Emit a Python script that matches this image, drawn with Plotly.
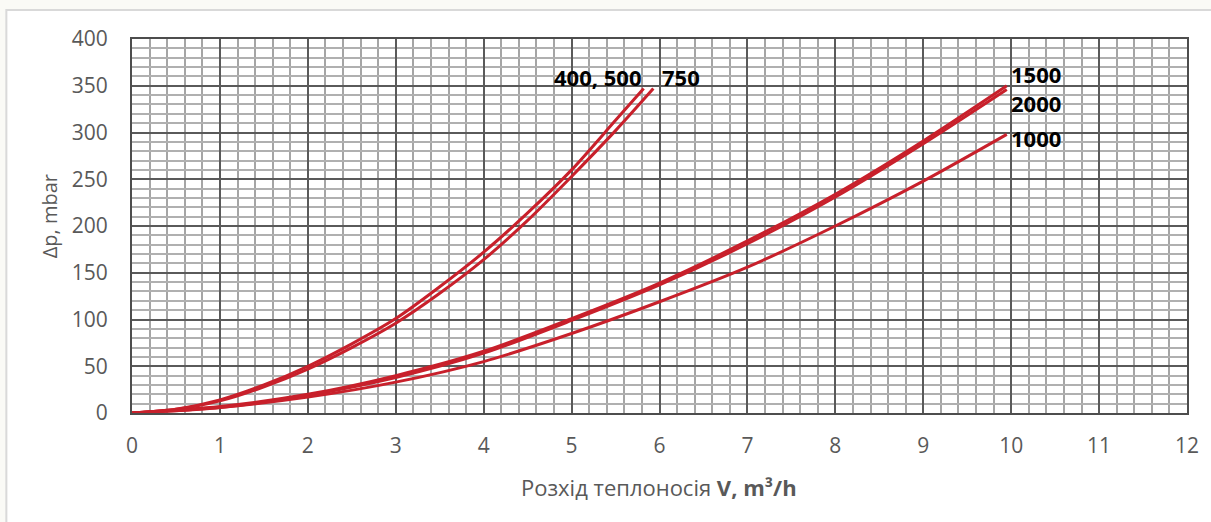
import plotly.graph_objects as go

# Flow rate V (m3/h) and pressure drop (mbar)
v_400_500 = [0, 0.5, 1, 1.5, 2, 2.5, 3, 3.5, 4, 4.5, 5, 5.5, 5.82]
dp_400_500 = [0, 4, 14, 30, 50, 74, 101, 135, 172, 214, 260, 313, 347]

v_750 = [0, 0.5, 1, 1.5, 2, 2.5, 3, 3.5, 4, 4.5, 5, 5.5, 5.93]
dp_750 = [0, 4, 13, 28, 47, 70, 96, 128, 164, 206, 253, 302, 347]

v_1500 = [0, 1, 2, 3, 4, 5, 6, 7, 8, 9, 9.95]
dp_1500 = [0, 7, 20, 40, 66, 101, 139, 184, 234, 291, 350]

v_2000 = [0, 1, 2, 3, 4, 5, 6, 7, 8, 9, 9.95]
dp_2000 = [0, 6, 19, 38, 64, 99, 137, 181, 231, 288, 346]

v_1000 = [0, 1, 2, 3, 4, 5, 6, 7, 8, 9, 9.95]
dp_1000 = [0, 6, 17, 33, 55, 85, 119, 156, 200, 248, 298]

series = [
    ("400, 500", v_400_500, dp_400_500),
    ("750", v_750, dp_750),
    ("1500", v_1500, dp_1500),
    ("2000", v_2000, dp_2000),
    ("1000", v_1000, dp_1000),
]

# Curve labels (text, V, dp, anchor); 1500 and 2000 are stacked in one block
label_text = ["400, 500", "750", "1500<br>2000", "1000"]
label_v = [5.30, 6.25, 9.97, 9.97]
label_dp = [359, 359, 347, 294]
label_anchor = ["center", "center", "left", "left"]

x_ticks = list(range(0, 13))
y_ticks = list(range(0, 401, 50))

RED = "#C8202B"
GRAY_TXT = "#595959"

fig = go.Figure()
for name, xs, ys in series:
    fig.add_trace(go.Scatter(
        x=xs, y=ys, mode="lines", name=name,
        line=dict(color=RED, width=3, shape="spline", smoothing=0.8),
        showlegend=False, hoverinfo="skip",
    ))

for t, xv, yv, anc in zip(label_text, label_v, label_dp, label_anchor):
    fig.add_annotation(
        x=xv, y=yv, text=f"<b>{t}</b>", showarrow=False,
        xanchor=anc, yanchor="middle", align="left",
        font=dict(family="Open Sans", size=22, color="#000000"),
    )

L, R, T, B = 132, 21, 39, 109
W, H = 1211, 522
pw, ph = W - L - R, H - T - B

def px_x(p):
    return (p - L) / pw

def px_y(p):
    return (H - B - p) / ph

# off-white background with white chart card and light border
fig.add_shape(type="rect", xref="paper", yref="paper",
              x0=px_x(6), x1=px_x(1240), y0=px_y(10), y1=px_y(560),
              fillcolor="white", line=dict(color="#D9D9D9", width=2),
              layer="below")

fig.add_annotation(
    xref="paper", yref="paper", x=px_x(660), y=px_y(487),
    text="Розхід теплоносія <b>V, m³/h</b>", showarrow=False,
    xanchor="center", yanchor="middle",
    font=dict(family="Open Sans", size=22, color=GRAY_TXT),
)
fig.add_annotation(
    xref="paper", yref="paper", x=px_x(49), y=px_y(216),
    text="Δp, mbar", showarrow=False, textangle=-90,
    xanchor="center", yanchor="middle",
    font=dict(family="Open Sans", size=20, color=GRAY_TXT),
)

fig.update_layout(
    width=W, height=H,
    margin=dict(l=L, r=R, t=T, b=B, pad=0),
    paper_bgcolor="#FAFAF6",
    plot_bgcolor="white",
    font=dict(family="Open Sans", size=20, color=GRAY_TXT),
)

fig.update_xaxes(
    range=[0, 12], tickvals=x_ticks, ticktext=[str(v) for v in x_ticks],
    showgrid=True, gridcolor="#5A5A5A", gridwidth=2,
    minor=dict(dtick=0.2, showgrid=True, gridcolor="#A5A5A5", gridwidth=1.5),
    showline=True, linecolor="#4D4D4D", linewidth=2, mirror=True,
    ticks="", ticklabelstandoff=13, zeroline=False,
    tickfont=dict(family="Open Sans", size=21, color=GRAY_TXT),
)
fig.update_yaxes(
    range=[0, 400], tickvals=y_ticks, ticktext=[str(v) for v in y_ticks],
    showgrid=True, gridcolor="#5A5A5A", gridwidth=2,
    minor=dict(dtick=10, showgrid=True, gridcolor="#B0B0B0", gridwidth=1.5),
    showline=True, linecolor="#4D4D4D", linewidth=2, mirror=True,
    ticks="", ticklabelstandoff=18, zeroline=False,
    tickfont=dict(family="Open Sans", size=21, color=GRAY_TXT),
)

fig.write_html("out.html")
